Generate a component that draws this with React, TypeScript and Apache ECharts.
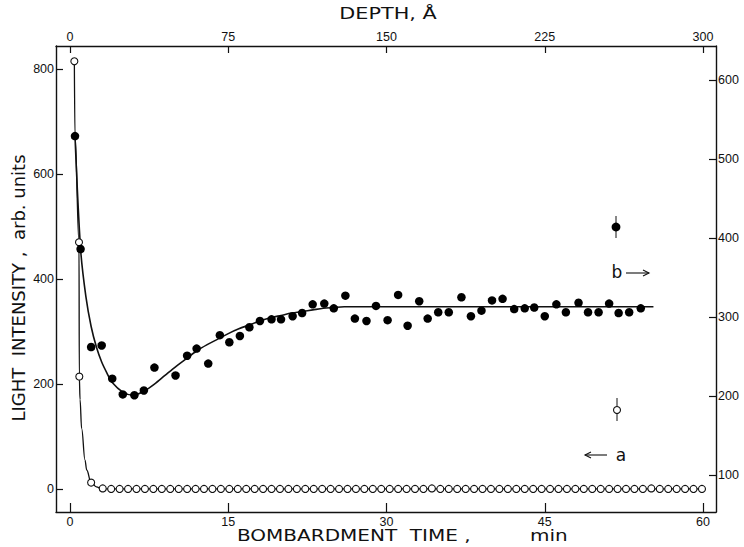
import React, { useEffect, useRef } from "react";
import * as echarts from "echarts";

// ---- data ----
// series a: open circles, left axis (light intensity, arb. units)
const timeA = [0.41, 0.85, 0.88, 2.0,
  3.1, 3.9, 4.7, 5.5, 6.3, 7.1, 7.9, 8.7, 9.5, 10.3,
  11.1, 11.9, 12.7, 13.5, 14.3, 15.1, 15.9, 16.7, 17.5, 18.3,
  19.1, 19.9, 20.7, 21.5, 22.3, 23.1, 23.9, 24.7, 25.5, 26.3,
  27.1, 27.9, 28.7, 29.5, 30.3, 31.1, 31.9, 32.7, 33.5, 34.3,
  35.1, 35.9, 36.7, 37.5, 38.3, 39.1, 39.9, 40.7, 41.5, 42.3,
  43.1, 43.9, 44.7, 45.5, 46.3, 47.1, 47.9, 48.7, 49.5, 50.3,
  51.1, 51.9, 52.7, 53.5, 54.3, 55.1, 55.9, 56.7, 57.5, 58.3,
  59.1, 59.9];
const valueA = [815, 470, 214, 12,
  1, 0, 0, 0, 0, 0, 0, 0, 0, 0,
  0, 0, 0, 0, 0, 0, 0, 0, 0, 0,
  0, 0, 0, 0, 0, 0, 0, 0, 0, 0,
  0, 0, 0, 0, 0, 0, 0, 0, 0, 1,
  0, 0, 0, 0, 0, 0, 0, 0, 0, 0,
  0, 0, 0, 0, 0, 0, 0, 0, 0, 0,
  0, 0, 0, 0, 0, 1, 0, 0, 0, 0,
  0, 0];
// curve a (drawn through the open circles)
const curveATime = [0.41, 0.47, 0.85, 0.88, 0.95, 1.1, 1.42, 1.58, 2.0, 2.5, 3.0, 60];
const curveAValue = [815, 674, 470, 214, 170, 115, 55, 36, 12, 4, 0, 0];

// series b: filled circles, right axis
const timeB = [0.47, 1.0, 2.0, 3.0, 4.0, 5.0, 6.1, 7.0, 8.0, 10.0,
  11.1, 12.0, 13.1, 14.2, 15.1, 16.1, 17.0, 18.0, 19.1, 20.0,
  21.1, 22.0, 23.0, 24.1, 25.0, 26.1, 27.0, 28.1, 29.0, 30.1,
  31.1, 32.0, 33.1, 33.9, 34.9, 35.9, 37.1, 38.0, 39.0, 40.0,
  41.0, 42.1, 43.1, 44.0, 45.0, 46.1, 47.0, 48.2, 49.1, 50.1,
  51.1, 52.0, 53.0, 54.1];
const valueB = [529, 386, 262, 264, 222, 202, 201, 207, 236, 226,
  251, 260, 241, 277, 268, 276, 287, 295, 297, 297,
  301, 305, 316, 317, 311, 327, 298, 295, 314, 296,
  328, 289, 320, 298, 306, 306, 325, 301, 308, 321,
  323, 310, 311, 312, 301, 316, 306, 318, 306, 306,
  317, 305, 306, 311];
// curve b (fitted line)
const curveBTime = [0.47, 1.0, 1.5, 2, 2.5, 3, 3.5, 4, 5, 6, 7, 8, 9, 10, 11, 12, 13, 14, 15, 16, 17, 18, 19, 20, 21, 22, 23, 24, 25, 26, 30, 40, 55.3];
const curveBValue = [529, 386, 326, 288, 262, 243, 229, 217, 205, 201, 206, 215, 226, 237, 247, 257, 265, 272, 279, 285, 290, 295, 299, 302, 305, 307, 309, 311, 312, 313, 313, 313, 313];

// tick labels
const timeTicks = [0, 15, 30, 45, 60];
const depthTicks = [0, 75, 150, 225, 300];
const leftTicks = [0, 200, 400, 600, 800];
const rightTicks = [100, 200, 300, 400, 500, 600];

const FONT = "'Liberation Sans', Arial, sans-serif";
const TFONT = "'DejaVu Sans', sans-serif";
const INK = "#111";

function pairs(xs: number[], ys: number[]) {
  return xs.map((x, i) => [x, ys[i]]);
}

function axisCommon(ticks: number[], tickLen: number, margin: number) {
  return {
    axisLine: { show: true, onZero: false, lineStyle: { color: INK, width: 1.4 } },
    axisTick: { show: true, inside: true, length: tickLen, customValues: ticks, lineStyle: { color: INK, width: 1.2 } },
    axisLabel: { show: true, customValues: ticks, margin, color: INK, fontFamily: FONT, fontSize: 12.5 },
    splitLine: { show: false },
  };
}

export default function App() {
  const ref = useRef<HTMLDivElement>(null);
  useEffect(() => {
    if (!ref.current) return;
    const chart = echarts.init(ref.current, undefined, { renderer: "svg" });
    chart.setOption({
      animation: false,
      backgroundColor: "#fff",
      grid: { left: 56, right: 28, top: 46, bottom: 35, containLabel: false },
      xAxis: [
        { type: "value", position: "bottom", min: -1.33, max: 61.23, ...axisCommon(timeTicks, 9, 3) },
        { type: "value", position: "top", min: -6.65, max: 306.15, ...axisCommon(depthTicks, 7, 3) },
      ],
      yAxis: [
        { type: "value", position: "left", min: -44, max: 844, ...axisCommon(leftTicks, 7, 2) },
        { type: "value", position: "right", min: 53.2, max: 643, ...axisCommon(rightTicks, 7, 2) },
      ],
      series: [
        {
          type: "line", xAxisIndex: 0, yAxisIndex: 0, data: pairs(curveATime, curveAValue),
          smooth: 0.4, smoothMonotone: "x", showSymbol: false, symbol: "none",
          lineStyle: { color: INK, width: 1.3 }, z: 2,
        },
        {
          type: "line", xAxisIndex: 0, yAxisIndex: 1, data: pairs(curveBTime, curveBValue),
          smooth: 0.3, showSymbol: false, symbol: "none",
          lineStyle: { color: INK, width: 1.6 }, z: 2,
        },
        {
          type: "scatter", xAxisIndex: 0, yAxisIndex: 0, data: pairs(timeA, valueA),
          symbol: "circle", symbolSize: 7,
          itemStyle: { color: "#fff", borderColor: INK, borderWidth: 1.1, opacity: 1 }, z: 4,
        },
        {
          type: "scatter", xAxisIndex: 0, yAxisIndex: 1, data: pairs(timeB, valueB),
          symbol: "circle", symbolSize: 8.5,
          itemStyle: { color: "#000", opacity: 1 }, z: 5,
        },
      ],
      graphic: [
        { type: "text", x: 388, y: 13, scaleX: 1.3, style: { text: "DEPTH, Å", font: `16px ${TFONT}`, fill: INK, textAlign: "center", textVerticalAlign: "middle" } },
        { type: "text", x: 237, y: 535, scaleX: 1.25, style: { text: "BOMBARDMENT  TIME ,", font: `16px ${TFONT}`, fill: INK, textAlign: "left", textVerticalAlign: "middle" } },
        { type: "text", x: 530, y: 535, scaleX: 1.25, style: { text: "min", font: `16px ${TFONT}`, fill: INK, textAlign: "left", textVerticalAlign: "middle" } },
        { type: "text", x: 18, y: 288, rotation: Math.PI / 2, style: { text: "LIGHT  INTENSITY ,  arb. units", font: `18px ${TFONT}`, fill: INK, textAlign: "center", textVerticalAlign: "middle" } },
        // key for b
        { type: "line", shape: { x1: 616, y1: 216, x2: 616, y2: 238 }, style: { stroke: INK, lineWidth: 1 } },
        { type: "circle", shape: { cx: 616, cy: 227, r: 4.4 }, style: { fill: "#000" } },
        { type: "text", x: 617, y: 272, style: { text: "b", font: `17px ${TFONT}`, fill: INK, textAlign: "center", textVerticalAlign: "middle" } },
        { type: "line", shape: { x1: 626, y1: 273, x2: 649, y2: 273 }, style: { stroke: INK, lineWidth: 1.1 } },
        { type: "polyline", shape: { points: [[643, 270], [649, 273], [643, 276]] }, style: { stroke: INK, lineWidth: 1.1, fill: null } },
        // key for a
        { type: "line", shape: { x1: 617, y1: 398, x2: 617, y2: 421 }, style: { stroke: INK, lineWidth: 1 } },
        { type: "circle", shape: { cx: 617, cy: 410, r: 3.5 }, style: { fill: "#fff", stroke: INK, lineWidth: 1.1 } },
        { type: "text", x: 621, y: 455, style: { text: "a", font: `17px ${TFONT}`, fill: INK, textAlign: "center", textVerticalAlign: "middle" } },
        { type: "line", shape: { x1: 585, y1: 455, x2: 607, y2: 455 }, style: { stroke: INK, lineWidth: 1.1 } },
        { type: "polyline", shape: { points: [[591, 452], [585, 455], [591, 458]] }, style: { stroke: INK, lineWidth: 1.1, fill: null } },
      ],
    });
    return () => chart.dispose();
  }, []);
  return <div ref={ref} style={{ position: "fixed", left: 0, top: 0, width: 744, height: 547, background: "#fff" }} />;
}
